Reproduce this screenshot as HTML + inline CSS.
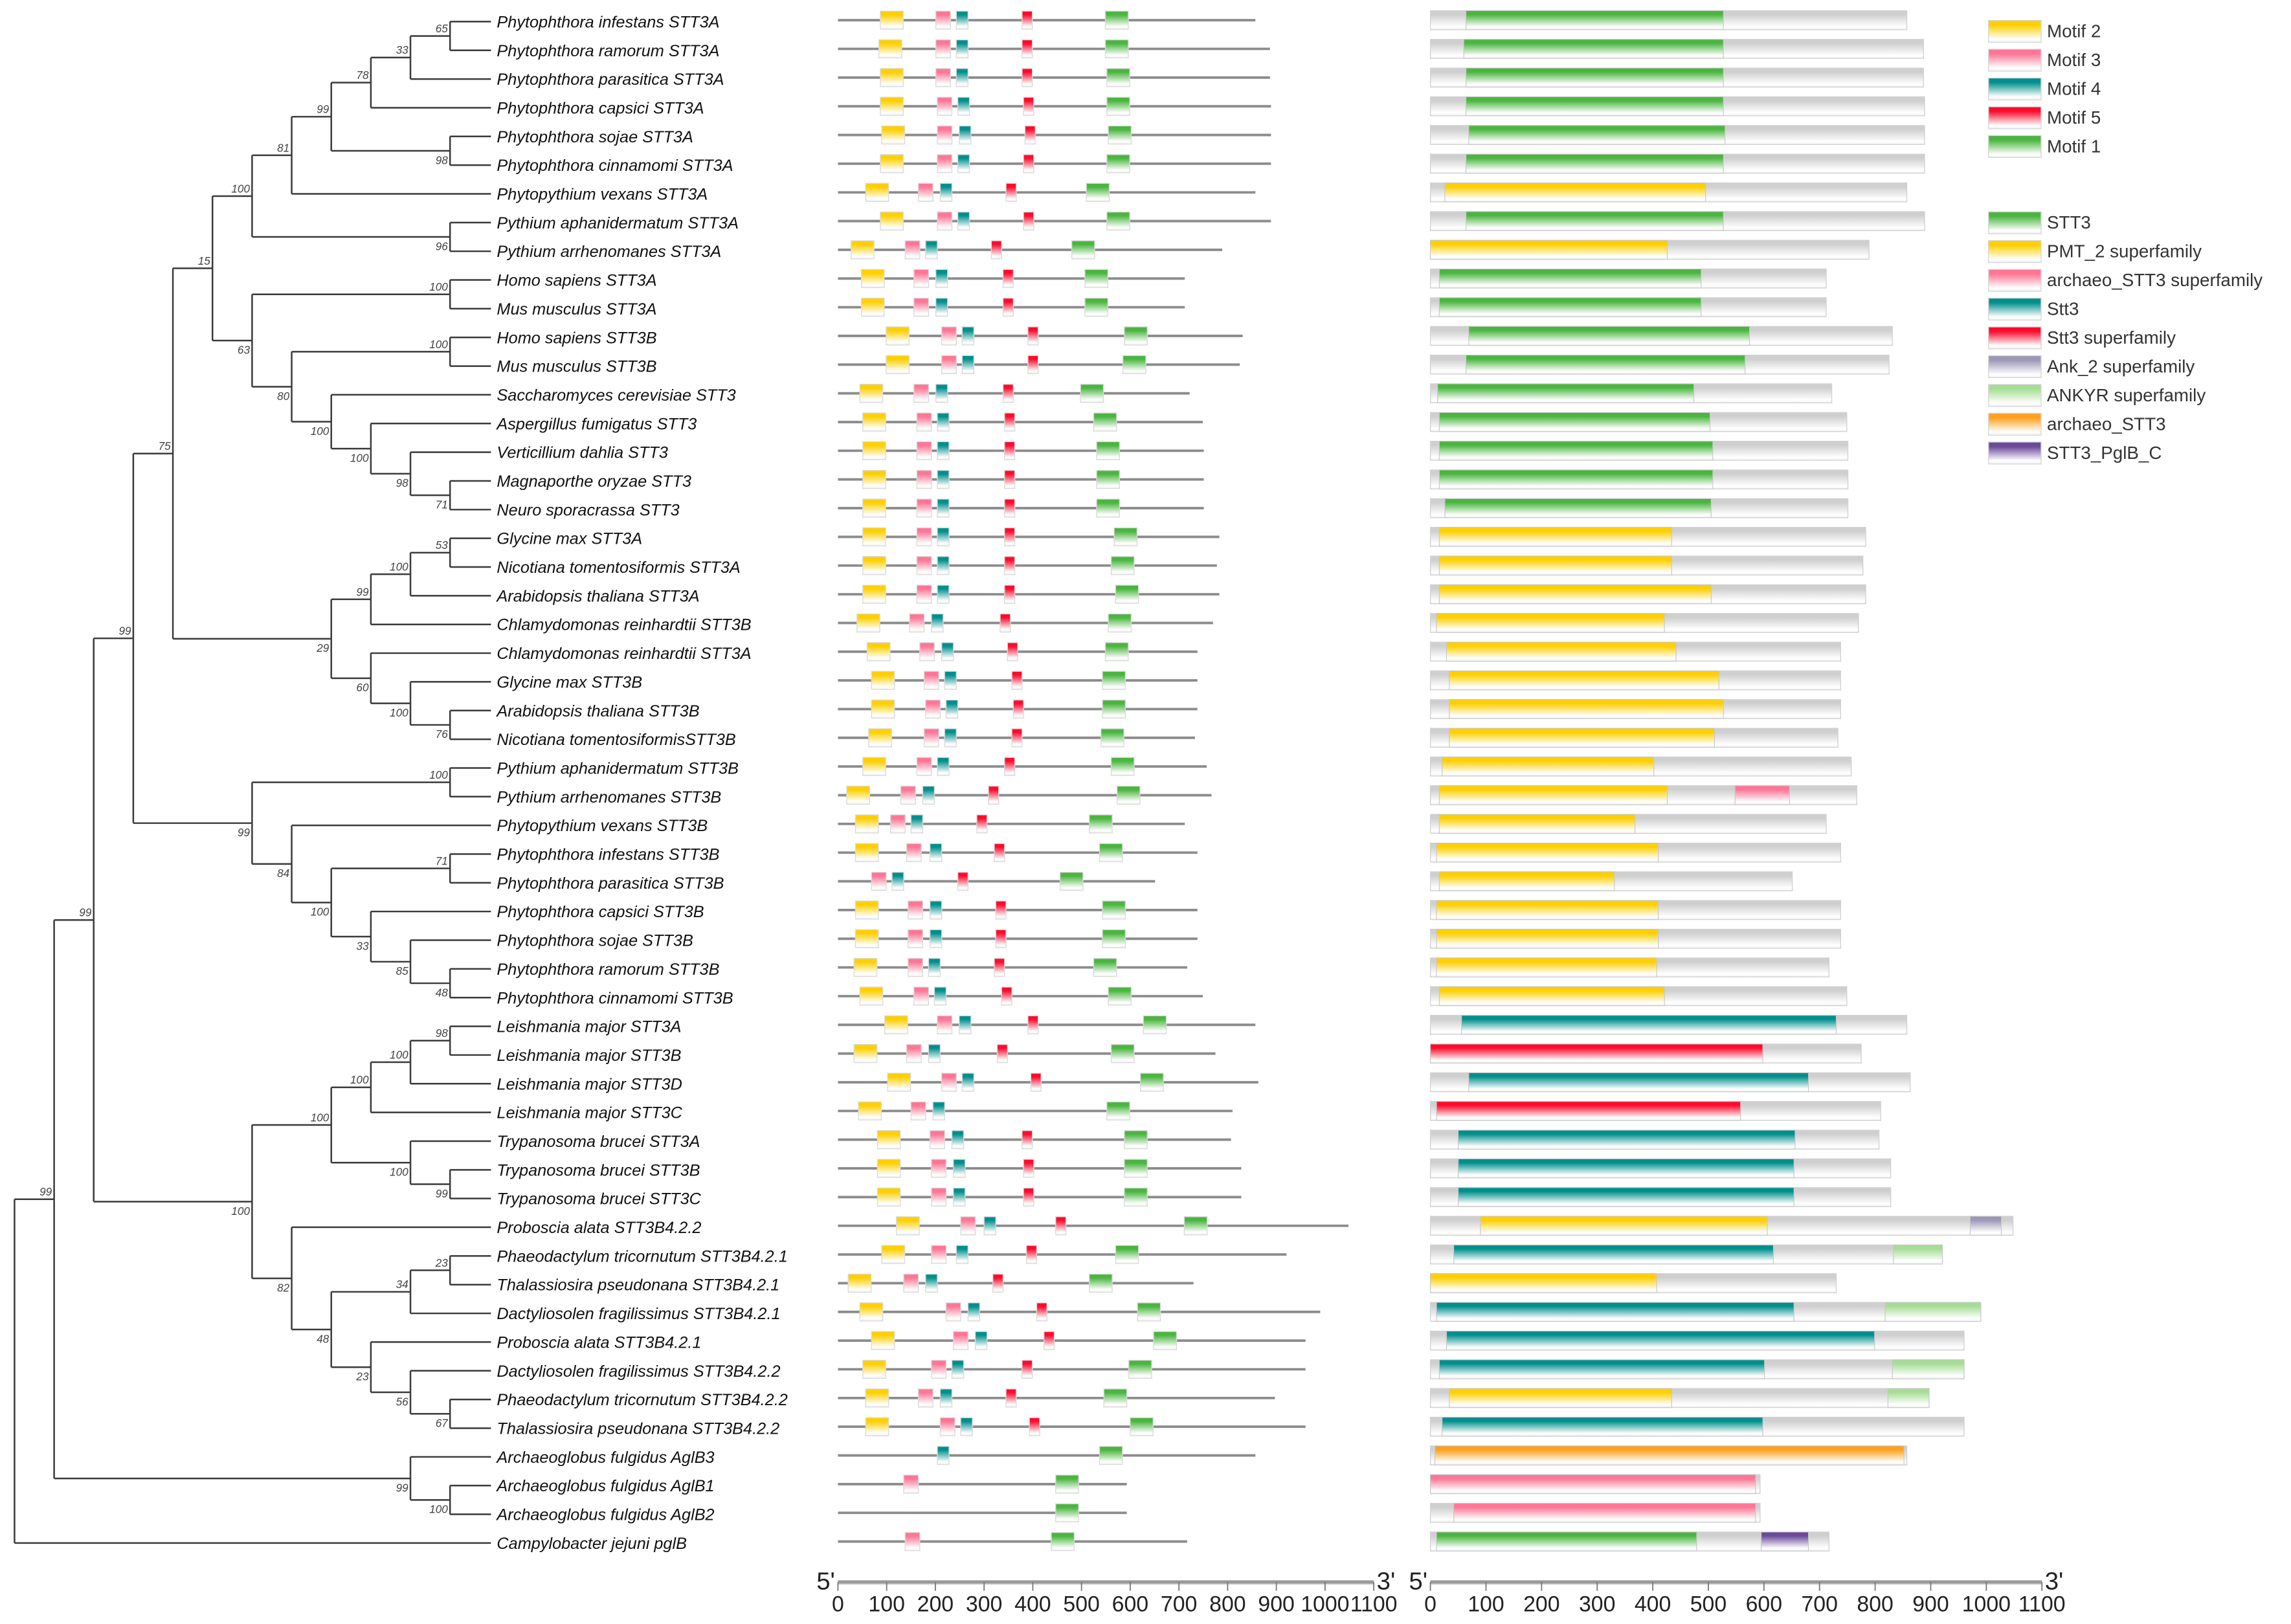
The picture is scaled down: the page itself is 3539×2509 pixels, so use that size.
<!DOCTYPE html>
<html><head><meta charset="utf-8"><style>
html,body{margin:0;padding:0;background:#fff;}
svg{display:block;}
text{font-family:"Liberation Sans",sans-serif;}
</style></head><body>
<svg id="fig" xmlns="http://www.w3.org/2000/svg" width="3539" height="2509" viewBox="0 0 1568 1111.7">
<defs id="defs"></defs>
<g id="tree"></g>
<g id="labels"></g>
<g id="motifs"></g>
<g id="domains"></g>
<g id="axes"></g>
<g id="legend"></g>
</svg>
<script>
const names=["Phytophthora infestans STT3A","Phytophthora ramorum STT3A","Phytophthora parasitica STT3A","Phytophthora capsici STT3A","Phytophthora sojae STT3A","Phytophthora cinnamomi STT3A","Phytopythium vexans STT3A","Pythium aphanidermatum STT3A","Pythium arrhenomanes STT3A","Homo sapiens STT3A","Mus musculus STT3A","Homo sapiens STT3B","Mus musculus STT3B","Saccharomyces cerevisiae STT3","Aspergillus fumigatus STT3","Verticillium dahlia STT3","Magnaporthe oryzae STT3","Neuro sporacrassa STT3","Glycine max STT3A","Nicotiana tomentosiformis STT3A","Arabidopsis thaliana STT3A","Chlamydomonas reinhardtii STT3B","Chlamydomonas reinhardtii STT3A","Glycine max STT3B","Arabidopsis thaliana STT3B","Nicotiana tomentosiformisSTT3B","Pythium aphanidermatum STT3B","Pythium arrhenomanes STT3B","Phytopythium vexans STT3B","Phytophthora infestans STT3B","Phytophthora parasitica STT3B","Phytophthora capsici STT3B","Phytophthora sojae STT3B","Phytophthora ramorum STT3B","Phytophthora cinnamomi STT3B","Leishmania major STT3A","Leishmania major STT3B","Leishmania major STT3D","Leishmania major STT3C","Trypanosoma brucei STT3A","Trypanosoma brucei STT3B","Trypanosoma brucei STT3C","Proboscia alata STT3B4.2.2","Phaeodactylum tricornutum STT3B4.2.1","Thalassiosira pseudonana STT3B4.2.1","Dactyliosolen fragilissimus STT3B4.2.1","Proboscia alata STT3B4.2.1","Dactyliosolen fragilissimus STT3B4.2.2","Phaeodactylum tricornutum STT3B4.2.2","Thalassiosira pseudonana STT3B4.2.2","Archaeoglobus fulgidus AglB3","Archaeoglobus fulgidus AglB1","Archaeoglobus fulgidus AglB2","Campylobacter jejuni pglB"];
const lens=[857,887,887,889,889,889,857,889,789,712,712,831,825,722,749,751,751,751,783,778,783,770,738,738,738,733,757,767,712,738,651,738,738,717,749,857,775,863,810,807,828,828,1048,921,730,990,960,960,897,960,857,593,593,717];
const motif2=[87,84,87,87,90,87,57,87,27,48,48,99,99,45,51,51,51,51,51,51,51,39,60,69,69,63,51,18,36,36,null,36,36,33,45,96,33,102,42,81,81,81,120,90,21,45,69,51,57,57,null,null,null,null];
const motif3=[201,201,201,204,204,204,165,204,138,156,156,213,213,156,162,162,162,162,162,162,162,147,168,177,180,177,162,129,108,141,69,144,144,144,156,204,141,213,150,189,192,192,252,192,135,222,237,192,165,210,null,135,null,138];
const motif4=[243,243,243,246,249,246,210,246,180,201,201,255,255,201,204,204,204,204,204,204,204,192,213,219,222,219,204,174,150,189,111,189,189,186,198,249,186,255,195,234,237,237,300,243,180,267,282,234,210,252,204,null,null,null];
const motif5=[378,378,378,381,384,381,345,381,315,339,339,390,390,339,342,342,342,342,342,342,342,333,348,357,360,357,342,309,285,321,246,324,324,321,336,390,327,396,null,378,381,381,447,387,318,408,423,378,345,393,null,null,null,null];
const motif1=[549,549,552,552,555,552,510,552,480,507,507,588,585,498,525,531,531,531,567,561,570,555,549,543,543,540,561,573,516,537,456,543,543,525,555,627,561,621,552,588,588,588,711,570,516,615,648,597,546,600,537,447,447,438];
const domains=[
[["STT3",64,527]],[["STT3",60,527]],[["STT3",64,527]],[["STT3",64,527]],[["STT3",69,530]],[["STT3",64,527]],
[["PMT",26,495]],[["STT3",64,527]],[["PMT",0,426]],[["STT3",16,487]],[["STT3",16,487]],[["STT3",69,574]],[["STT3",64,566]],
[["STT3",13,474]],[["STT3",16,503]],[["STT3",16,508]],[["STT3",16,508]],[["STT3",26,505]],
[["PMT",16,434]],[["PMT",16,434]],[["PMT",16,505]],[["PMT",11,421]],[["PMT",29,442]],[["PMT",34,519]],[["PMT",34,527]],[["PMT",34,511]],
[["PMT",21,402]],[["PMT",16,426],["ASF",548,646]],[["PMT",16,368]],[["PMT",11,410]],[["PMT",16,331]],[["PMT",11,410]],[["PMT",11,410]],[["PMT",11,407]],[["PMT",16,421]],
[["Stt3",56,730]],[["StSF",0,598]],[["Stt3",69,680]],[["StSF",11,558]],[["Stt3",50,656]],[["Stt3",50,654]],[["Stt3",50,654]],
[["PMT",90,606],["Ank",971,1027]],[["Stt3",42,617],["ANKYR",833,921]],[["PMT",0,407]],[["Stt3",11,654],["ANKYR",818,990]],[["Stt3",29,799]],
[["Stt3",16,601],["ANKYR",831,960]],[["PMT",34,434],["ANKYR",823,897]],[["Stt3",21,598]],
[["ARC",8,852]],[["ASF",0,585]],[["ASF",42,585]],[["STT3",11,479],["PglB",595,680]]];
const tickVals=[0,100,200,300,400,500,600,700,800,900,1000,1100];
// tree: [level, support, children...]; leaves are row indices
const tree=[0,null,
 [1,"99",
  [2,"99",
   [3,"99",
    [4,"75",
     [5,"15",
      [6,"100",
       [7,"81",[8,"99",[9,"78",[10,"33",[11,"65",0,1],2],3],[11,"98",4,5]],6],
       [11,"96",7,8]],
      [6,"63",[11,"100",9,10],[7,"80",[11,"100",11,12],[8,"100",13,[9,"100",14,[10,"98",15,[11,"71",16,17]]]]]]],
     [8,"29",[9,"99",[10,"100",[11,"53",18,19],20],21],[9,"60",22,[10,"100",23,[11,"76",24,25]]]]],
    [6,"99",[11,"100",26,27],[7,"84",28,[8,"100",[11,"71",29,30],[9,"33",31,[10,"85",32,[11,"48",33,34]]]]]]],
   [6,"100",
    [8,"100",[9,"100",[10,"100",[11,"98",35,36],37],38],[10,"100",39,[11,"99",40,41]]],
    [7,"82",42,[8,"48",[10,"34",[11,"23",43,44],45],[9,"23",46,[10,"56",47,[11,"67",48,49]]]]]]],
  [10,"99",50,[11,"100",51,52]]],
 53];

const NS="http://www.w3.org/2000/svg";
function mk(tag,attrs,parent){const e=document.createElementNS(NS,tag);for(const k in attrs)e.setAttribute(k,attrs[k]);parent.appendChild(e);return e;}
const rowY=i=>14.8+i*19.65;
const lvX=l=>9.9+l*27.1;
const LEAFX=336;
const mX=a=>573.5+a*0.3334;
const dX=a=>979+a*0.3805;

const defs=document.getElementById('defs');
const colors={m2:"#ffcf00",m3:"#ff7595",m4:"#008f8c",m5:"#ff0a2c",m1:"#4ab53f",
 STT3:"#4ab53f",PMT:"#ffcf00",ASF:"#ff7595",Stt3:"#008f8c",StSF:"#ff0a2c",Ank:"#9b97b5",ANKYR:"#a6dd94",ARC:"#ffa11e",PglB:"#6a4a9a",gray:"#cfcfcf"};
for(const k in colors){
 const g=mk('linearGradient',{id:'g_'+k,x1:0,y1:0,x2:0,y2:1},defs);
 mk('stop',{offset:0,'stop-color':colors[k]},g);
 mk('stop',{offset:0.2,'stop-color':colors[k]},g);
 mk('stop',{offset:0.85,'stop-color':'#ffffff'},g);
 mk('stop',{offset:1,'stop-color':'#f2f2f2'},g);
}

// tree
const treeG=document.getElementById('tree');
const supG=mk('g',{},treeG);
function drawNode(n){
 if(typeof n==='number')return {x:LEAFX,y:rowY(n),leaf:true};
 const x=lvX(n[0]);const kids=n.slice(2).map(drawNode);
 const y=(kids[0].y+kids[kids.length-1].y)/2;
 const v=mk('line',{x1:x,y1:kids[0].y,x2:x,y2:kids[kids.length-1].y,stroke:'#3a3a3a','stroke-width':1.1},treeG);
 
 
 kids.forEach((k,i)=>{
  const h=mk('line',{x1:x,y1:k.y,x2:k.x,y2:k.y,stroke:'#3a3a3a','stroke-width':1.1},treeG);
  
  
  if(!k.leaf&&k.sup){
   const t=mk('text',{x:k.x-1.5,y:i===0?k.y-2.5:k.y+9,'text-anchor':'end','font-size':7.6,'font-style':'italic',fill:'#444'},supG);
   t.textContent=k.sup;
   
   
  }
 });
 return {x,y,sup:n[1]};
}
drawNode(tree);

// labels
const labG=document.getElementById('labels');
names.forEach((nm,i)=>{
 const t=mk('text',{x:340,y:rowY(i)+4,'font-size':11.2,'font-style':'italic',fill:'#111'},labG);
 t.textContent=nm;
 
 
});

// motifs
const mG=document.getElementById('motifs');
const mW={m2:47,m3:30,m4:24,m5:21,m1:47};
const mArr={m2:motif2,m3:motif3,m4:motif4,m5:motif5,m1:motif1};
lens.forEach((L,i)=>{
 const y=rowY(i);
 const ln=mk('line',{x1:mX(0),y1:y-1,x2:mX(L),y2:y-1,stroke:'#8c8c8c','stroke-width':1.7},mG);
 
 
 for(const k of ['m2','m3','m4','m5','m1']){
  const s=mArr[k][i];if(s===null)continue;
  const r=mk('rect',{x:mX(s),y:y-7.2,width:mW[k]*0.3334,height:12.4,fill:'url(#g_'+k+')',stroke:'#dadada','stroke-width':0.6},mG);
  
  
 }
});

// domains
const dG=document.getElementById('domains');
lens.forEach((L,i)=>{
 const y=rowY(i);
 const b=mk('rect',{x:dX(0),y:y-7.5,width:dX(L)-dX(0),height:13,fill:'url(#g_gray)',stroke:'#d2d2d2','stroke-width':0.6},dG);
 
 
 domains[i].forEach(d=>{
  const r=mk('rect',{x:dX(d[1]),y:y-7.5,width:dX(d[2])-dX(d[1]),height:13,fill:'url(#g_'+d[0]+')',stroke:'#c8c8c8','stroke-width':0.5},dG);
  
  
 });
});

// axes
const aG=document.getElementById('axes');
function axis(fx,name){
 const g=mk('g',{},aG);
 
 
 const y=1083;
 mk('line',{x1:fx(0),y1:y,x2:fx(1100),y2:y,stroke:'#9a9a9a','stroke-width':2.4},g);
 mk('line',{x1:fx(0),y1:y+1.4,x2:fx(1100),y2:y+1.4,stroke:'#d0d0d0','stroke-width':0.8},g);
 tickVals.forEach(v=>{
  mk('line',{x1:fx(v),y1:y,x2:fx(v),y2:y+6,stroke:'#777','stroke-width':0.8},g);
  const t=mk('text',{x:fx(v),y:1103,'text-anchor':'middle','font-size':15,fill:'#222'},g);
  t.textContent=String(v);
  
  
 });
 const a=mk('text',{x:fx(0)-2,y:1088,'text-anchor':'end','font-size':17,fill:'#222'},g);a.textContent="5'";
 
 
 const c=mk('text',{x:fx(1100)+2,y:1088,'font-size':17,fill:'#222'},g);c.textContent="3'";
 
 
}
axis(mX,'motif-axis');
axis(dX,'domain-axis');

// legend
const lG=document.getElementById('legend');
const legKeys=["m2","m3","m4","m5","m1"];
const legNames=["Motif 2","Motif 3","Motif 4","Motif 5","Motif 1"];
const legKeys2=["STT3","PMT","ASF","Stt3","StSF","Ank","ANKYR","ARC","PglB"];
const legNames2=["STT3","PMT_2 superfamily","archaeo_STT3 superfamily","Stt3","Stt3 superfamily","Ank_2 superfamily","ANKYR superfamily","archaeo_STT3","STT3_PglB_C"];
function legend(keys,labels,y0){
 keys.forEach((k,i)=>{
  const y=y0+i*19.7;
  const g=mk('g',{},lG);
  
  
  mk('rect',{x:1361,y:y-7,width:36,height:15,fill:'url(#g_'+k+')',stroke:'#d6d6d6','stroke-width':0.6},g);
  const t=mk('text',{x:1401,y:y+4.5,'font-size':12.3,fill:'#333'},g);t.textContent=labels[i];
 });
}
legend(legKeys,legNames,21);
legend(legKeys2,legNames2,152);
</script>
</body></html>
